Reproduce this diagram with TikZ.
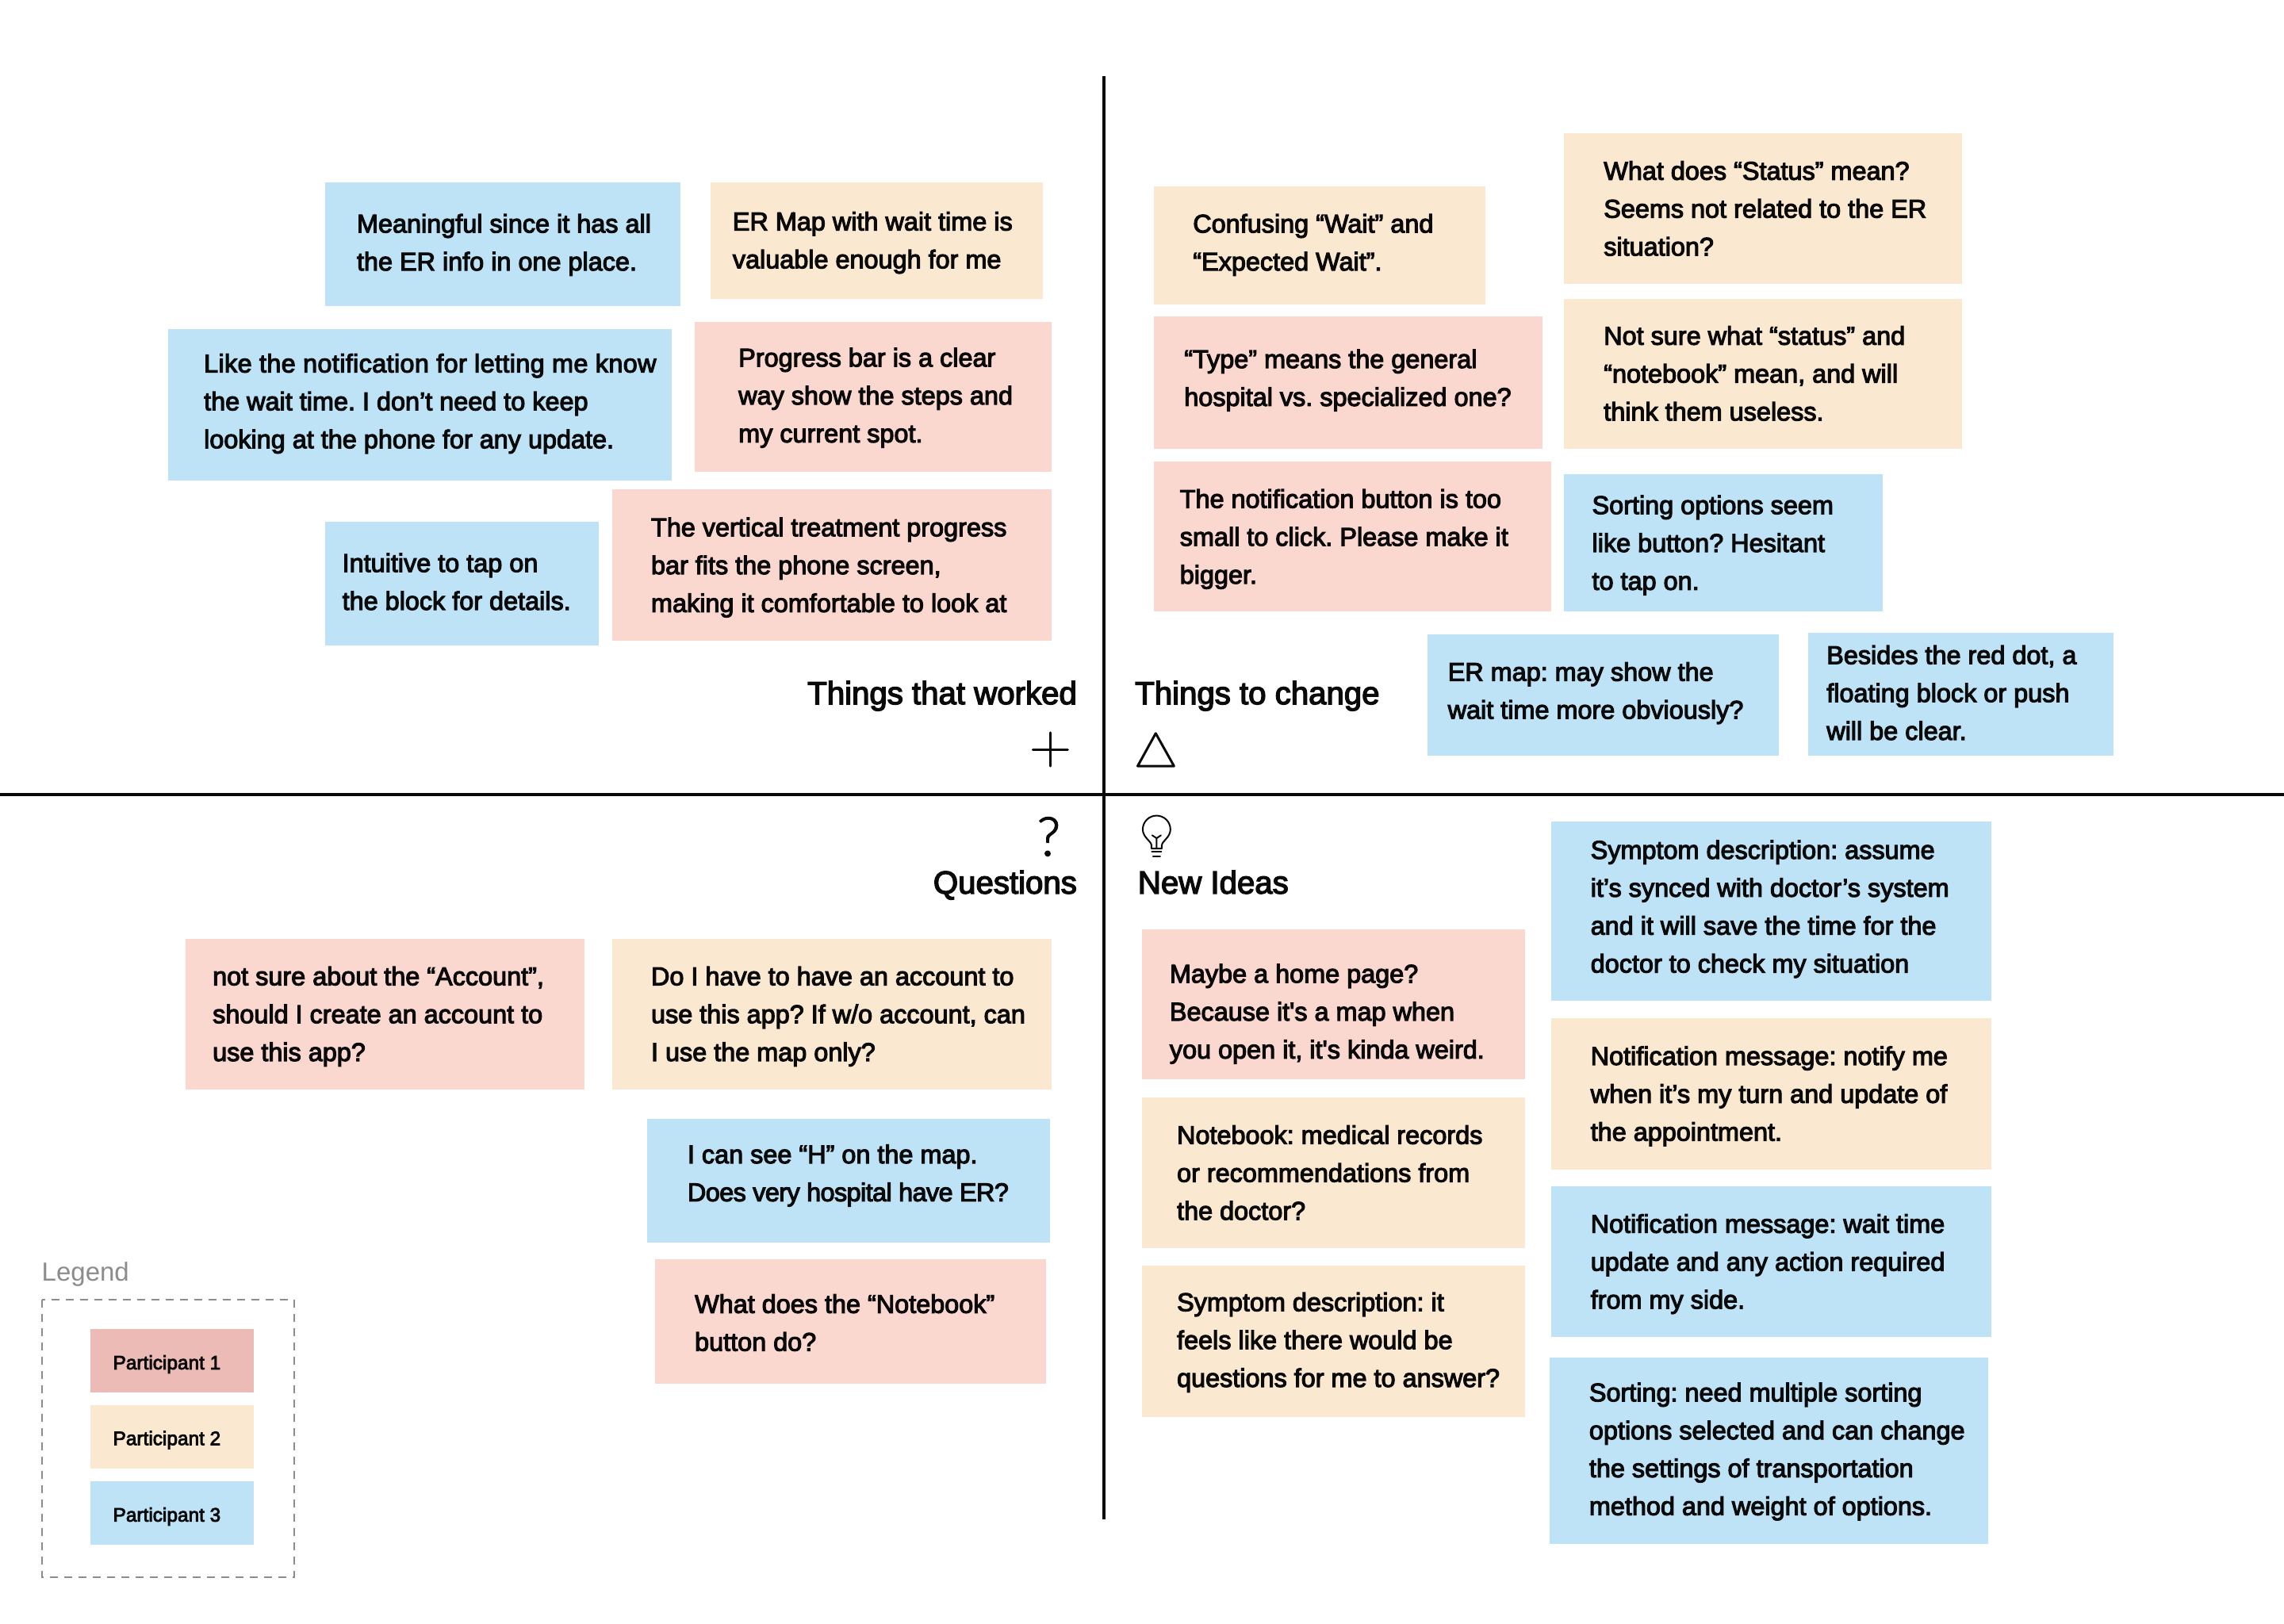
\documentclass[tikz,border=0pt]{standalone}
\usepackage{fontspec}
\setmainfont[FakeBold=3.5]{Liberation Sans}
\newfontfamily\plainfont{Liberation Sans}
\newfontfamily\thinfont[FakeBold=2]{Lato Light}
\definecolor{pinkn}{HTML}{FAD8D0}
\definecolor{tann}{HTML}{FAE8D1}
\definecolor{bluen}{HTML}{BEE2F6}
\definecolor{pinkl}{HTML}{ECBBB6}
\definecolor{ink}{HTML}{0A0A0A}
\definecolor{greyl}{HTML}{8C8C8C}
\newlength{\nw}\newlength{\nh}\newlength{\npad}\newlength{\nshift}
% name, colour, x0, y0, x1, y1, text x, text dy, lines
\newcommand{\note}[9]{%
  \pgfmathsetlength{\nw}{(#5-#3)*0.91837}%
  \pgfmathsetlength{\nh}{(#6-#4)*0.91837}%
  \pgfmathsetlength{\npad}{(#7-#3)*0.91837}%
  \pgfmathsetlength{\nshift}{-(#8)*0.91837}%
  \node[notebox,fill=#2,minimum width=\nw,minimum height=\nh] (#1) at ({(#3+#5)/2},{(#4+#6)/2})
    {\setbox0\hbox{\begin{tabular}{@{}l@{}}#9\end{tabular}}\makebox[\nw][l]{\hspace*{\npad}\raisebox{\dimexpr\nshift-(\ht0-\dp0)/2\relax}[0pt][0pt]{\copy0}}};%
}
\tikzset{
  notebox/.style={rectangle,draw=none,inner sep=0pt,text=ink,font=\frenchspacing\fontsize{16.2}{23.9}\selectfont},
  axisline/.style={draw=ink,line width=1.8pt},
  iconline/.style={draw=ink,line width=1.5pt,line cap=round,line join=round},
  heading/.style={inner sep=0pt,text=ink,font=\frenchspacing\fontsize{20.1}{24}\selectfont},
  legendbox/.style={rectangle,draw=none,inner sep=0pt,text=ink,minimum width=102.9pt,minimum height=40pt,font=\fontsize{12.2}{14}\selectfont},
}
\begin{document}
\begin{tikzpicture}[x=0.91837pt,y=-0.91837pt]
\useasboundingbox (0,0) rectangle (1568,1115);
\fill[white] (0,0) rectangle (1568,1115);
% axes
\coordinate (vtop) at (757.7,52);
\coordinate (vbot) at (757.7,1043);
\coordinate (hl) at (0,545.5);
\coordinate (hr) at (1568,545.5);
\draw[axisline] (vtop) -- (vbot);
\draw[axisline] (hl) -- (hr);
% top left
\note{a1}{bluen}{223}{125}{467}{210}{245}{0}{Meaningful since it has all\\the ER info in one place.}
\note{a2}{tann}{488}{125}{716}{205}{503}{1}{ER Map with wait time is\\valuable enough for me}
\note{a3}{bluen}{115.4}{226}{461}{330}{140}{-1.5}{\addfontfeature{LetterSpace=1.1}Like the notification for letting me know\\the wait time. I don’t need to keep\\looking at the phone for any update.}
\note{a4}{pinkn}{477}{221}{722}{324}{507}{0}{Progress bar is a clear\\way show the steps and\\my current spot.}
\note{a5}{bluen}{223}{358}{411}{443}{235}{0}{Intuitive to tap on\\the block for details.}
\note{a6}{pinkn}{420.5}{336}{722}{440}{447}{1}{The vertical treatment progress\\bar fits the phone screen,\\making it comfortable to look at}
% top right
\note{b1}{tann}{792}{128}{1020}{209}{819}{-1}{Confusing “Wait” and\\“Expected Wait”.}
\note{b2}{tann}{1073.5}{91.5}{1347}{195}{1101}{1}{What does “Status” mean?\\Seems not related to the ER\\situation?}
\note{b3}{pinkn}{792}{217}{1059}{308}{813}{-2}{“Type” means the general\\hospital vs. specialized one?}
\note{b4}{tann}{1073.5}{205}{1347}{308}{1101}{1}{Not sure what “status” and\\“notebook” mean, and will\\think them useless.}
\note{b5}{pinkn}{792}{317}{1065}{420}{810}{1}{The notification button is too\\small to click. Please make it\\bigger.}
\note{b6}{bluen}{1073.5}{325.5}{1292.5}{420}{1093}{1}{Sorting options seem\\like button? Hesitant\\to tap on.}
\note{b7}{bluen}{980}{435.5}{1221}{519}{994}{-2}{ER map: may show the\\wait time more obviously?}
\note{b8}{bluen}{1241.5}{434.5}{1451}{519}{1254}{0}{Besides the red dot, a\\floating block or push\\will be clear.}
% bottom left
\note{c1}{pinkn}{127.5}{644.5}{401}{748}{146}{1}{not sure about the “Account”,\\should I create an account to\\use this app?}
\note{c2}{tann}{420.5}{644.5}{722}{748}{447}{1}{Do I have to have an account to\\use this app? If w/o account, can\\I use the map only?}
\note{c3}{bluen}{444}{768}{721}{853}{472}{-4}{I can see “H” on the map.\\\addfontfeature{LetterSpace=-1.8}Does very hospital have ER?}
\note{c4}{pinkn}{449.5}{864.5}{718}{950}{477}{2}{What does the “Notebook”\\button do?}
% bottom right
\note{d1}{pinkn}{784}{638}{1047}{741}{803}{6}{Maybe a home page?\\Because it\textquotesingle s a map when\\you open it, it\textquotesingle s kinda weird.}
\note{d2}{tann}{784}{753.5}{1047}{857}{808}{1}{Notebook: medical records\\or recommendations from\\the doctor?}
\note{d3}{tann}{784}{869}{1047}{973}{808}{0}{Symptom description: it\\feels like there would be\\questions for me to answer?}
\note{d4}{bluen}{1065}{564}{1367}{687}{1092}{-2}{Symptom description: assume\\it’s synced with doctor’s system\\and it will save the time for the\\doctor to check my situation}
\note{d5}{tann}{1065}{699}{1367}{803}{1092}{1}{Notification message: notify me\\when it’s my turn and update of\\the appointment.}
\note{d6}{bluen}{1065}{814.5}{1367}{918}{1092}{1}{Notification message: wait time\\update and any action required\\from my side.}
\note{d7}{bluen}{1064}{932}{1365}{1060}{1091}{0}{Sorting: need multiple sorting\\options selected and can change\\the settings of transportation\\method and weight of options.}
% headings
\node[heading,anchor=base east] (h1) at (739.5,483.5) {Things that worked};
\node[heading,anchor=base west] (h2) at (779,483.5) {Things to change};
\node[heading,anchor=base east] (h3) at (739.5,613.5) {Questions};
\node[heading,anchor=base west] (h4) at (781,613.5) {New Ideas};
% icons
\draw[iconline] (709,514.6) -- (733,514.6) (721,503) -- (721,526);
\draw[iconline] (793.4,503.5) -- (806,526) -- (781,526) -- cycle;
\node[inner sep=0pt,text=ink,anchor=base,font=\thinfont\fontsize{34}{36}\selectfont] (q) at (720,587.5) {?};
\draw[iconline,line width=1pt] (790.5,582.6) -- (790.5,580.5) .. controls (790.5,577.5) and (784.5,575) .. (784.5,569.5)
  arc[start angle=180,end angle=360,radius=9.5]
  .. controls (803.5,575) and (797.6,577.5) .. (797.6,580.5) -- (797.6,582.6) -- cycle;
\draw[iconline,line width=1pt] (794,582) -- (794,575.5) (791,573.5) -- (794,575.5) -- (797,573.5);
\draw[iconline,line width=1pt] (790.7,585) -- (797.3,585) (791.5,587.8) -- (796.5,587.8);
% legend
\node[inner sep=0pt,anchor=base west,text=greyl,font=\plainfont\fontsize{16.5}{20}\selectfont] (lt) at (28.5,879.5) {Legend};
\draw[greyl,line width=0.8pt,dash pattern=on 5pt off 4pt] (28.7,892.5) rectangle (202,1083);
\node[legendbox,fill=pinkl] (l1) at (118,934.5) {\makebox[102.9pt][l]{\hspace*{14.4pt}\raisebox{-5.2pt}[0pt][0pt]{Participant 1}}};
\node[legendbox,fill=tann] (l2) at (118,986.5) {\makebox[102.9pt][l]{\hspace*{14.4pt}\raisebox{-5.2pt}[0pt][0pt]{Participant 2}}};
\node[legendbox,fill=bluen] (l3) at (118,1039) {\makebox[102.9pt][l]{\hspace*{14.4pt}\raisebox{-5.2pt}[0pt][0pt]{Participant 3}}};
\end{tikzpicture}
\end{document}
